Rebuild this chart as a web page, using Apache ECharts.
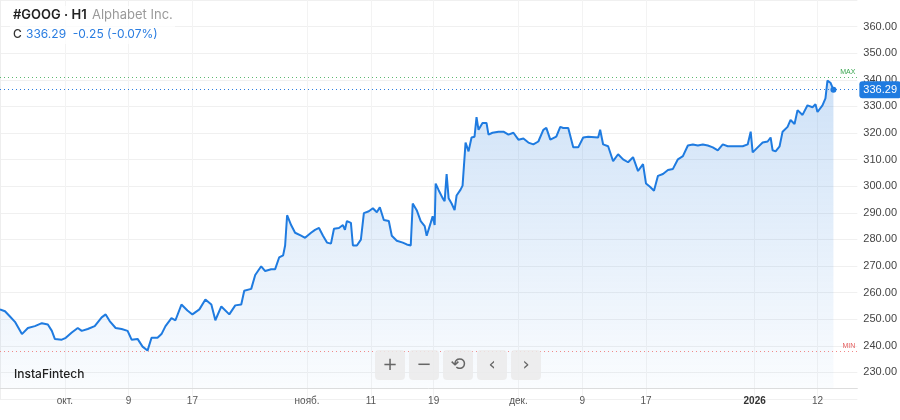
<!DOCTYPE html>
<html>
<head>
<meta charset="utf-8">
<script src="https://cdn.jsdelivr.net/npm/echarts@6/dist/echarts.min.js"></script>
<style>html,body{margin:0;padding:0;background:#fff}#main{width:900px;height:420px}</style>
</head>
<body>
<div id="main"></div>
<script>
// positions along the time axis and hourly close prices
var t = [0,5,10,15,22,28,35,42,48,52,55,62,66,72,78,82,88,95,102,106,110,116,122,128,132,138,143,148,152,158,162,166,172,176,182,188,193,200,206,212,216,222,230,236,242,245,252,256,262,266,272,276,280,284,286,288,292,296,302,306,312,316,320,324,328,332,335,340,344,346,348,352,354,358,362,365,370,374,378,381,385,390,393,398,404,408,412,414,418,422,426,428,432,434,436,437,440,444,446,448,450,453,456,458,462,464,466,467,470,473,476,478,480,484,488,490,494,500,505,510,515,520,525,530,535,540,545,548,552,558,562,565,570,575,580,585,590,600,602,605,610,615,620,625,630,635,640,645,648,652,656,660,665,670,675,680,685,690,695,700,705,710,715,720,725,730,735,745,750,753,755,760,765,770,773,775,778,782,785,790,793,797,800,805,810,815,818,820,825,828,830,833,836];
var price = [253.7,253,251,249,244.4,246.7,247.4,248.5,248,245.6,242.6,242.3,243,245,246.7,245.6,246.3,247.4,250.7,251.8,249.3,246.7,246.3,245.6,242.3,242.6,239.7,238.2,243,243,244.4,247.4,250.4,249.6,255.5,253.3,251.8,253.7,257.4,255.5,249.6,254.8,251.8,255.2,255.5,260.7,261.4,266.6,269.9,268.1,268.8,268.8,273.2,274,277.7,289.1,285.4,282.5,281.4,280.6,282.5,283.6,284.3,281.4,278.8,278.4,284,284.3,285.4,283.6,286.9,286.2,277.7,277.7,279.9,289.9,290.6,291.7,290.2,292.1,287.3,286.9,281.4,279.5,278.8,278.1,277.7,293.5,291,286.9,285,281.4,286.2,288.7,285.4,301,298.5,295.5,294.4,304.6,295.5,293.5,291,296.5,298.7,300.2,300.9,316.4,313.1,318.3,318.6,326,321.2,323.8,323.8,319.4,320.1,320.5,320.5,319.4,320.1,317.5,317.9,316.4,315.7,316.8,321.2,321.9,317.5,318.6,322.3,321.9,321.9,314.6,314.6,318.3,318.6,318.3,321.2,315.7,315,309.4,312,310.1,309,310.9,305.7,308.3,301,299.8,298.3,303.9,304.6,306.1,306.5,310.1,311.3,315.3,315.7,315.3,315.7,315.3,314.6,313.5,315.7,315,315,315,315.7,320.5,312.7,314.6,316.4,316.8,318.3,313.5,313.1,315,320.5,322.3,324.9,323.4,328.6,326.8,330.4,329.7,330.8,327.9,330.4,333,339.7,338.9,336.29];
var tickPos = [65,129,193,308,372,435,520,584,648,757,820];
var tickLabels = ['окт.','9','17','нояб.','11','19','дек.','9','17','2026','12'];
var yTicks = [230,240,250,260,270,280,290,300,310,320,330,340,350,360];
var lastPrice = 336.29, maxLevel = 340.8, minLevel = 237.8;

var data = [];
for (var i = 0; i < t.length; i++) data.push([t[i], price[i]]);
var last = data.length - 1;

var btns = ['+','−','⟲','‹','›'];
var btnX = [375,409,443,477,511];
var graphics = [
    {type:'rect', z:50, shape:{x:10, y:6, width:165, height:38}, style:{fill:'rgba(255,255,255,0.7)'}},
    {type:'text', z:60, left:13, top:9, style:{text:'#GOOG · H1', font:'600 13px Inter', fill:'#222'}},
    {type:'text', z:60, left:92, top:9, style:{text:'Alphabet Inc.', font:'13px Inter', fill:'#9a9a9a'}},
    {type:'text', z:60, left:13, top:28, style:{text:'C', font:'500 12px Inter', fill:'#333'}},
    {type:'text', z:60, left:26, top:28, style:{text:'336.29  -0.25 (-0.07%)', font:'12px Inter', fill:'#2a7de1'}},
    {type:'text', z:60, left:14, top:368, style:{text:'InstaFintech', font:'500 12px Inter', fill:'#222'}}
];
btns.forEach(function (b, k) {
    graphics.push({type:'rect', z:50, shape:{x:btnX[k], y:350, width:30, height:30, r:4}, style:{fill:'rgba(235,235,235,0.85)'}});
    graphics.push({type:'text', z:60, x:btnX[k]+15, y:365, style:{text:b, font:'18px DejaVu Sans', fill:'#666', align:'center', verticalAlign:'middle'}});
});

function level(val, color, lbl) {
    return {
        type: 'line', data: [], silent: true,
        markLine: {
            symbol: 'none', silent: true,
            lineStyle: {color: color, type: [1, 3], width: 1, opacity: 1},
            label: lbl,
            data: [{yAxis: val}]
        }
    };
}

var myChart = echarts.init(document.getElementById('main'));
myChart.setOption({
    animation: false,
    grid: {left: 0, right: 40, top: -7, bottom: 21},
    graphic: graphics,
    xAxis: {
        type: 'value', min: 0, max: 860, offset: -11,
        axisLine: {show: true, lineStyle: {color: '#ddd'}},
        axisTick: {show: false, customValues: tickPos},
        axisLabel: {
            customValues: tickPos,
            color: '#555', fontSize: 10, margin: 8,
            formatter: function (v) {
                var k = tickPos.indexOf(v);
                return k === 9 ? '{b|' + tickLabels[k] + '}' : tickLabels[k];
            },
            rich: {b: {fontWeight: 'bold', color: '#333', fontSize: 10}}
        },
        splitLine: {show: true, lineStyle: {color: '#f3f3f3'}}
    },
    yAxis: {
        type: 'value', position: 'right', min: 220, max: 370, interval: 10,
        axisLine: {show: true, lineStyle: {color: '#eee'}},
        axisTick: {show: false},
        axisLabel: {
            color: '#444', fontSize: 11, margin: 6,
            formatter: function (v) { return yTicks.indexOf(v) >= 0 ? v.toFixed(2) : ''; }
        },
        splitLine: {lineStyle: {color: '#f0f0f0'}}
    },
    series: [{
        type: 'line',
        data: data,
        showSymbol: true,
        symbol: 'circle',
        symbolSize: function (v, p) { return p.dataIndex === last ? 6 : 0; },
        lineStyle: {color: '#1f7be0', width: 2},
        itemStyle: {color: '#1f7be0'},
        areaStyle: {
            origin: 224,
            color: new echarts.graphic.LinearGradient(0, 0, 0, 1, [
                {offset: 0, color: 'rgba(40,125,220,0.32)'},
                {offset: 1, color: 'rgba(40,125,220,0.03)'}
            ])
        }
    },
    level(lastPrice, '#2a7de1', {position: 'end', formatter: lastPrice.toFixed(2), color: '#fff', backgroundColor: '#1f7be0',
                                 padding: [3, 4], borderRadius: 3, fontSize: 11, distance: 2}),
    level(maxLevel, '#5cb870', {position: 'insideEndTop', formatter: 'MAX', color: '#3aa650', fontSize: 7, distance: 2}),
    level(minLevel, '#f08a8a', {position: 'insideEndTop', formatter: 'MIN', color: '#e45b5b', fontSize: 7, distance: 2})
    ]
});
</script>
</body>
</html>
